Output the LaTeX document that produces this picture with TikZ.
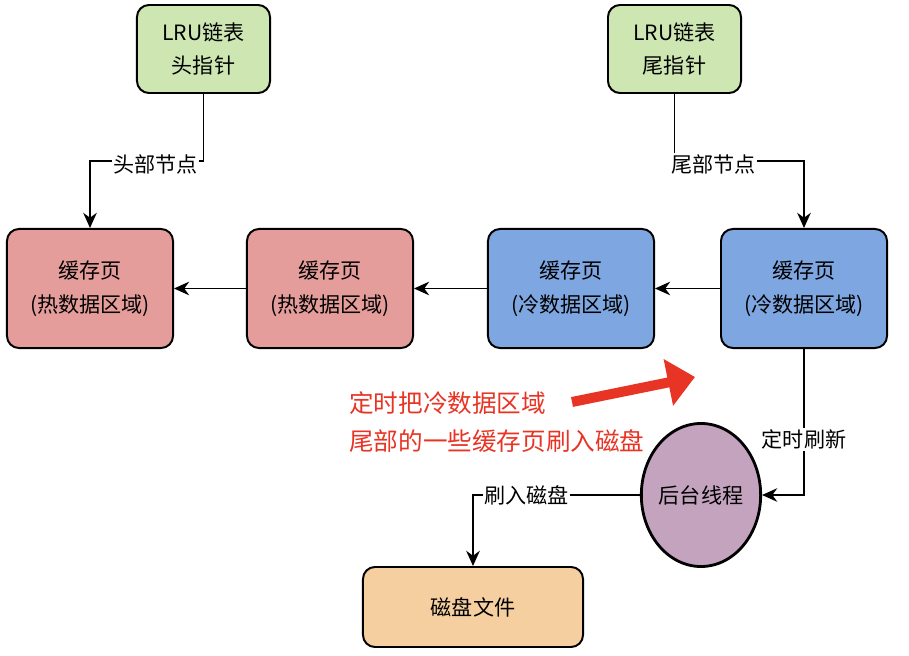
\documentclass[tikz,border=0pt]{standalone}
\usepackage{fontspec}
\setmainfont{Noto Sans CJK SC}
\usepackage{tikz}
\usetikzlibrary{arrows.meta,shapes.geometric}
\definecolor{ptrgreen}{RGB}{205,230,178}
\definecolor{hotred}{RGB}{229,157,155}
\definecolor{coldblue}{RGB}{126,166,224}
\definecolor{threadpurple}{RGB}{196,163,191}
\definecolor{diskorange}{RGB}{246,207,161}
\definecolor{notered}{RGB}{232,52,37}

\begin{document}
\begin{tikzpicture}[x=0.025cm, y=-0.025cm, >={Stealth[length=0.38cm, width=0.34cm]},
    font=\fontsize{15}{24}\selectfont,
    box/.style={draw, line width=1.4pt, rounded corners=0.3cm, align=center, inner sep=0pt},
    ptrbox/.style={box, fill=ptrgreen, minimum width=3.325cm, minimum height=2.2cm},
    hotbox/.style={box, fill=hotred, minimum width=4.15cm, minimum height=2.975cm},
    coldbox/.style={box, fill=coldblue, minimum width=4.15cm, minimum height=2.975cm},
    link/.style={->, line width=1.1pt},
    lbl/.style={fill=white, inner sep=1pt}]
    \useasboundingbox (0,0) rectangle (909,656);

    % LRU pointers
    \node[ptrbox] (headptr) at (203.5, 49) {LRU链表\\头指针};
    \node[ptrbox] (tailptr) at (674.5, 49) {LRU链表\\尾指针};

    % cache pages, hot region on the left, cold region on the right
    \node[hotbox] (hotA) at (90, 288.5) {缓存页\\(热数据区域)};
    \node[hotbox] (hotB) at (330, 288.5) {缓存页\\(热数据区域)};
    \node[coldbox] (coldA) at (571, 288.5) {缓存页\\(冷数据区域)};
    \node[coldbox] (coldB) at (804, 288.5) {缓存页\\(冷数据区域)};

    % background thread and disk
    \node[draw, ellipse, line width=2pt, fill=threadpurple, inner sep=0pt,
          minimum width=2.45cm, minimum height=3.575cm] (bgthread) at (701, 495) {后台线程};
    \node[box, fill=diskorange, minimum width=5.5cm, minimum height=2cm] (diskfile) at (473, 607) {磁盘文件};

    % note
    \node[anchor=west, align=left, text=notered, inner sep=0pt,
          font=\fontsize{17.5}{27}\selectfont] (note) at (349, 422)
          {定时把冷数据区域\\尾部的一些缓存页刷入磁盘};
    \coordinate (redtail) at (572, 402);
    \coordinate (redtip) at (695, 377);
    \draw[notered, line width=0.25cm, -{Triangle[length=0.68cm, width=1.15cm]}] (redtail) -- (redtip);

    % Connections - pointers
    \draw[link] (headptr.south) -- (headptr.south |- 0, 161)
                -| node[lbl, pos=0.21, yshift=-0.08cm] {头部节点} (hotA.north);
    \draw[link] (tailptr.south) -- (tailptr.south |- 0, 161)
                -| node[lbl, pos=0.15, yshift=-0.08cm] {尾部节点} (coldB.north);

    % Connections - list
    \draw[link] (coldB.west) -- (coldA.east);
    \draw[link] (coldA.west) -- (hotB.east);
    \draw[link] (hotB.west) -- (hotA.east);

    % Connections - flushing
    \draw[link] (coldB.south) |- node[lbl, pos=0.31] {定时刷新} (bgthread.east);
    \draw[link] (bgthread.west) -| node[lbl, pos=0.34] {刷入磁盘} (diskfile.north);
\end{tikzpicture}
\end{document}
